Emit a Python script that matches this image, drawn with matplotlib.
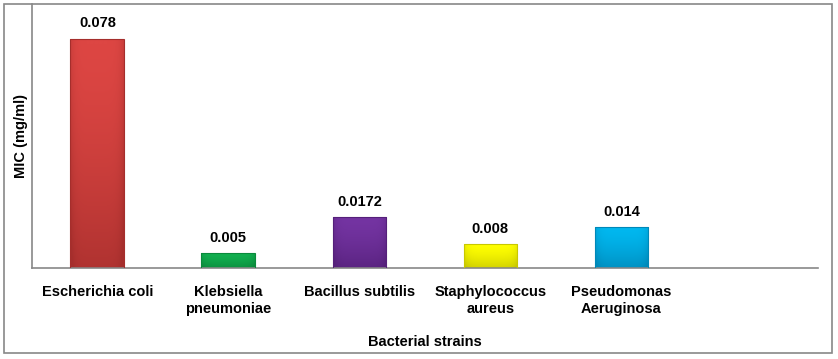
import numpy as np
import matplotlib.pyplot as plt
from matplotlib.patches import Rectangle
from matplotlib.colors import LinearSegmentedColormap

plt.rcParams['font.family'] = ['Liberation Sans', 'DejaVu Sans']

strains = ['Escherichia coli', 'Klebsiella\npneumoniae', 'Bacillus subtilis',
           'Staphylococcus\naureus', 'Pseudomonas\nAeruginosa', '']
mic = [0.078, 0.005, 0.0172, 0.008, 0.014, 0]
labels = ['0.078', '0.005', '0.0172', '0.008', '0.014', '']
colors = ['#DD4643', '#12B050', '#7434A2', '#FFFF00', '#00B8F0', 'white']
dark = ['#A52E2C', '#0A8A3C', '#55207A', '#C8C800', '#0088B8', 'white']


def draw_bar(ax, bar, light, darkc):
    x, y = bar.get_x(), bar.get_y()
    w, h = bar.get_width(), bar.get_height()
    if h <= 0:
        return
    cmap = LinearSegmentedColormap.from_list('g', [light, darkc])
    vert = np.linspace(0, 1, 100).reshape(-1, 1) ** 1.5
    horiz = np.abs(np.linspace(-1, 1, 60)).reshape(1, -1)
    grad = np.clip(vert * 0.8 + 0.35 * horiz ** 6, 0, 1)
    im = ax.imshow(grad, cmap=cmap, aspect='auto', extent=(x, x + w, y, y + h),
                   origin='upper', zorder=2, vmin=0, vmax=1)
    im.set_clip_path(bar)
    bar.set_facecolor('none')
    bar.set_edgecolor(darkc)
    bar.set_zorder(3)


def main() -> None:
    fig = plt.figure(figsize=(8.38, 3.59), dpi=100)
    ax = fig.add_axes([0.038, 0.2535, 0.938, 0.736])
    pos = np.arange(len(strains))
    bars = ax.bar(pos, mic, width=0.41, linewidth=0.8)
    for b, c, d in zip(bars, colors, dark):
        draw_bar(ax, b, c, d)
    for p, v, t in zip(pos, mic, labels):
        if t:
            ax.annotate(t, (p, v), xytext=(0, 6), textcoords='offset points',
                        ha='center', va='bottom', fontsize=10.5, fontweight='bold')
    ax.set_xlim(-0.5, len(strains) - 0.5)
    ax.set_ylim(0, 0.0899)
    ax.set_xticks(pos)
    ax.set_xticklabels(strains, fontsize=10.5, fontweight='bold', linespacing=1.3)
    ax.tick_params(axis='x', length=0, pad=12)
    ax.set_yticks([])
    for s in ['top', 'right']:
        ax.spines[s].set_visible(False)
    for s in ['left', 'bottom']:
        ax.spines[s].set_color('#888888')
        ax.spines[s].set_linewidth(1.2)
    ax.set_xlabel('Bacterial strains', fontsize=10.5, fontweight='bold', labelpad=14)
    ax.set_ylabel('MIC (mg/ml)', fontsize=10.5, fontweight='bold', labelpad=3)
    fig.patches.append(Rectangle((4 / 838, 6 / 359), 828 / 838, 349 / 359,
                                 transform=fig.transFigure, fill=False,
                                 edgecolor='#888888', linewidth=1.2))
    fig.savefig('out.png', dpi=100)


if __name__ == "__main__":
    main()
